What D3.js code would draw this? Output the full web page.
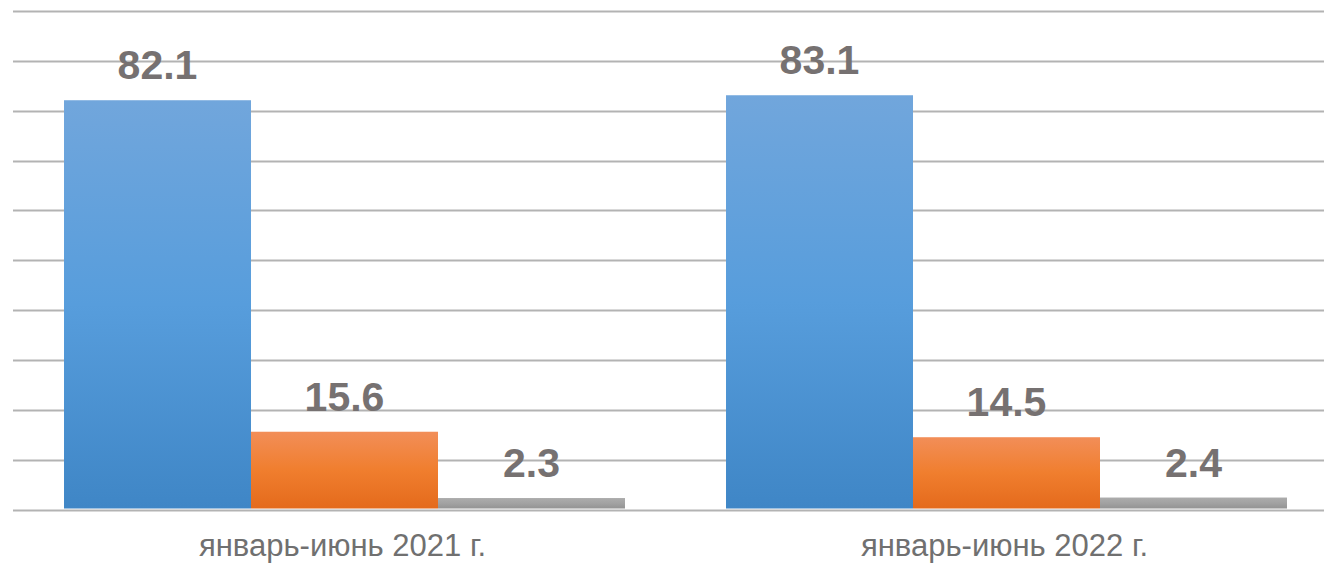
<!DOCTYPE html>
<html>
<head>
<meta charset="utf-8">
<script src="https://cdn.jsdelivr.net/npm/d3@7"></script>
<style>
  html, body { margin: 0; padding: 0; background: #ffffff; overflow: hidden; }
  svg { display: block; }
</style>
</head>
<body>
<svg id="chart" width="1324" height="563"></svg>
<script>
const categories = ["январь-июнь 2021 г.", "январь-июнь 2022 г."];
const seriesNames = ["s1", "s2", "s3"];
const series1 = [82.1, 83.1];
const series2 = [15.6, 14.5];
const series3 = [2.3, 2.4];
const yTicks = [0, 10, 20, 30, 40, 50, 60, 70, 80, 90, 100];

const seriesValues = [series1, series2, series3];
const gradients = [
  ["#71a6dc", "#579ddc", "#3f86c6"],
  ["#f28e58", "#f07e2e", "#e46a1c"],
  ["#acacac", "#a2a2a2", "#939393"]
];

const svg = d3.select("#chart");
const W = 1324, H = 563;

const x0 = d3.scaleBand().domain(categories).range([13.5, 1337.5]).paddingInner(0.1526).paddingOuter(0.0763);
const x1 = d3.scaleBand().domain(seriesNames).range([0, x0.bandwidth()]).padding(0);
const y = d3.scaleLinear().domain([0, 100]).range([509.5, 11]);

const defs = svg.append("defs");
gradients.forEach((g, i) => {
  const lg = defs.append("linearGradient").attr("id", "grad" + i)
    .attr("x1", 0).attr("y1", 0).attr("x2", 0).attr("y2", 1);
  lg.append("stop").attr("offset", "0%").attr("stop-color", g[0]);
  lg.append("stop").attr("offset", "50%").attr("stop-color", g[1]);
  lg.append("stop").attr("offset", "100%").attr("stop-color", g[2]);
});

// gridlines
svg.append("g").selectAll("line").data(yTicks).join("line")
  .attr("x1", 13).attr("x2", W)
  .attr("y1", d => Math.round(y(d)) + 0.5).attr("y2", d => Math.round(y(d)) + 0.5)
  .attr("stroke", "#b3b3b3").attr("stroke-width", 2);

// bars
const groups = svg.append("g").selectAll("g").data(categories).join("g")
  .attr("transform", d => `translate(${x0(d)},0)`);

groups.each(function(cat, ci) {
  const g = d3.select(this);
  seriesNames.forEach((s, si) => {
    const v = seriesValues[si][ci];
    g.append("rect")
      .attr("x", x1(s)).attr("width", x1.bandwidth())
      .attr("y", y(v)).attr("height", y(0) - y(v) - 1)
      .attr("fill", `url(#grad${si})`);
    g.append("text")
      .attr("x", x1(s) + x1.bandwidth() / 2)
      .attr("y", y(v) - 21)
      .attr("text-anchor", "middle")
      .attr("font-family", "'Liberation Sans', Arial, sans-serif")
      .attr("font-weight", "bold")
      .attr("font-size", 41)
      .attr("fill", "#767171")
      .text(v.toFixed(1));
  });
});

// category axis labels
svg.append("g").selectAll("text").data(categories).join("text")
  .attr("x", d => x0(d) + x0.bandwidth() / 2 - 2)
  .attr("y", 556)
  .attr("text-anchor", "middle")
  .attr("font-family", "'Liberation Sans', Arial, sans-serif")
  .attr("font-size", 31)
  .attr("fill", "#707070")
  .text(d => d);
</script>
</body>
</html>
